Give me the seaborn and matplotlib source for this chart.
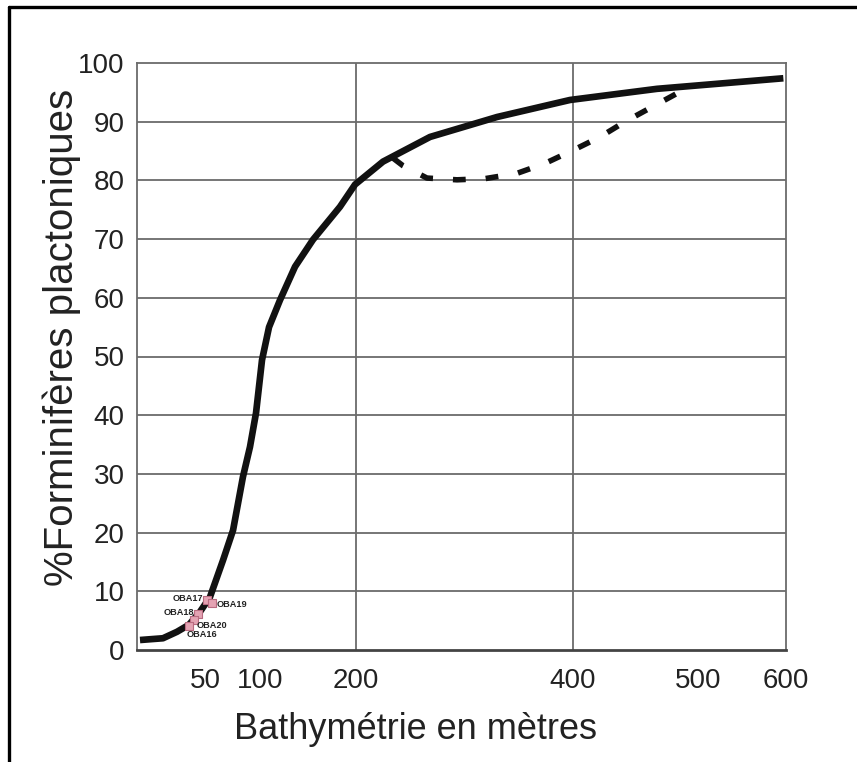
import numpy as np
import pandas as pd
import matplotlib
matplotlib.use('Agg')
import matplotlib.pyplot as plt
from matplotlib.lines import Line2D
import seaborn as sns

"""Data read off the reference chart (depth in metres, % planktonic forams)"""
depth_m = [2.2, 19.1, 29.4, 38.2, 46.3, 54.5, 66.4, 75.5, 84.5, 90.9, 96.4, 102.1,
           109.4, 120.8, 136.5, 155.2, 183.3, 199, 224.9, 268.2, 330, 397.2, 467.2, 597]
pct_plancto = [1.7, 2.0, 3.1, 4.3, 6.5, 9.0, 15.3, 20.4, 29.5, 34.6, 40.4, 49.4,
               55.0, 59.6, 65.3, 69.9, 75.5, 79.3, 83.2, 87.4, 90.8, 93.7, 95.6, 97.4]

alt_depth_m = [234.1, 243.3, 265.4, 293.1, 318.9, 348.4, 374.2, 401.6, 421.6,
               441.6, 464, 485.6, 489.6]
alt_pct = [83.8, 82.5, 80.4, 80.1, 80.3, 81.2, 82.9, 85.3, 87.4, 90.0, 92.6, 95.1, 95.6]

sample_names = ['OBA17', 'OBA19', 'OBA18', 'OBA20', 'OBA16']
sample_depth = [51.8, 56.4, 44.9, 41.9, 38.2]
sample_pct = [8.5, 8.0, 6.1, 5.1, 4.1]

x_ticks = [50, 100, 200, 400, 500, 600]
y_ticks = [0, 10, 20, 30, 40, 50, 60, 70, 80, 90, 100]
vgrid_m = [200, 400]

"""The original axis is not linear: piecewise mapping of depth to position"""
scale_m = [0, 50, 100, 200, 400, 500, 600]
scale_pos = [137, 205, 260, 356, 573, 698, 786]


def fwd(x):
    return np.interp(x, scale_m, scale_pos)


def inv(p):
    return np.interp(p, scale_pos, scale_m)


sns.set_style('white')
plt.rcParams['font.family'] = ['Liberation Sans', 'DejaVu Sans']

fig = plt.figure(figsize=(8.57, 7.62), dpi=100)
ax = fig.add_axes([137 / 857, 1 - 650 / 762, (786 - 137) / 857, (650 - 63) / 762])

curve = pd.DataFrame({'depth': depth_m, 'pct': pct_plancto})
alt = pd.DataFrame({'depth': alt_depth_m, 'pct': alt_pct})
samples = pd.DataFrame({'name': sample_names, 'depth': sample_depth, 'pct': sample_pct})

ax.set_xscale('function', functions=(fwd, inv))
ax.set_xlim(0, 600)
ax.set_ylim(0, 100)

grid_col = '#6b6b6b'
for yv in y_ticks[1:-1]:
    ax.axhline(yv, color=grid_col, lw=1.3, zorder=1)
for xv in vgrid_m:
    ax.axvline(xv, color=grid_col, lw=1.3, zorder=1)

sns.lineplot(data=curve, x='depth', y='pct', sort=False, color='#111111', lw=4.8,
             solid_capstyle='butt', solid_joinstyle='round', ax=ax, zorder=3)
sns.lineplot(data=alt, x='depth', y='pct', sort=False, color='#111111', lw=4.0,
             dashes=False, ax=ax, zorder=3)
ax.lines[-1].set_dashes([2.3, 3.6])
ax.lines[-1].set_dash_capstyle('butt')

sns.scatterplot(data=samples, x='depth', y='pct', marker='s', s=32, color='#e4a3b3',
                edgecolor='#b86b80', linewidth=0.8, ax=ax, zorder=4)

offsets = {'OBA17': (-3, 1, 'right'), 'OBA19': (3, -1, 'left'), 'OBA18': (-3, 1, 'right'),
           'OBA20': (2, -4, 'left'), 'OBA16': (-2, -6.5, 'left')}
for name, d, p in zip(sample_names, sample_depth, sample_pct):
    dx, dy, ha = offsets[name]
    ax.annotate(name, (d, p), xytext=(dx, dy), textcoords='offset points', ha=ha,
                va='center', fontsize=6.6, fontweight='bold', color='#222222', zorder=5)

ax.set_xticks(x_ticks)
ax.set_xticklabels([str(v) for v in x_ticks])
ax.set_yticks(y_ticks)
ax.tick_params(axis='x', length=0, pad=13, labelsize=20, colors='#222222')
ax.tick_params(axis='y', length=0, pad=9, labelsize=20, colors='#222222')
ax.minorticks_off()

for side in ['top', 'right', 'left']:
    ax.spines[side].set_color(grid_col)
    ax.spines[side].set_linewidth(1.3)
ax.spines['bottom'].set_color('#444444')
ax.spines['bottom'].set_linewidth(2)

ax.set_xlabel('Bathymétrie en mètres', fontsize=26, color='#222222')
ax.xaxis.set_label_coords(0.429, -0.106)
ax.set_ylabel('%Forminifères plactoniques', fontsize=29, color='#222222')
ax.yaxis.label.set_va('center')
ax.yaxis.set_label_coords(-0.116, 0.533)

"""Outer frame of the original figure (only left and top edges are visible)"""
fig.add_artist(Line2D([9 / 857, 9 / 857], [0, 1 - 7 / 762], transform=fig.transFigure,
                      color='black', lw=2.4))
fig.add_artist(Line2D([9 / 857, 1], [1 - 7 / 762, 1 - 7 / 762], transform=fig.transFigure,
                      color='black', lw=2.4))

fig.savefig('out.png', dpi=100)
